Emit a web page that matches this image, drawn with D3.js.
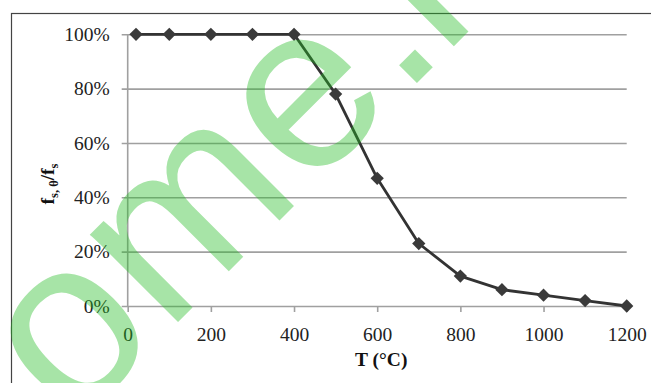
<!DOCTYPE html>
<html>
<head>
<meta charset="utf-8">
<script src="https://cdn.jsdelivr.net/npm/d3@7"></script>
<style>
  body { margin: 0; background: #fff; }
  svg { display: block; }
  .axis text { font-family: "Liberation Serif", "Times New Roman", serif; font-size: 19.5px; fill: #222; }
  .axis path { display: none; }
  .grid line { stroke: #a0a0a0; stroke-width: 1.6; }
  .title { font-family: "Liberation Serif", "Times New Roman", serif; font-weight: bold; fill: #111; }
</style>
</head>
<body>
<svg id="chart" width="651" height="383"></svg>
<script>
// temperature (°C) and reduction factor f_s,θ / f_s
var temps = [20, 100, 200, 300, 400, 500, 600, 700, 800, 900, 1000, 1100, 1200];
var ratio = [1.00, 1.00, 1.00, 1.00, 1.00, 0.78, 0.47, 0.23, 0.11, 0.06, 0.04, 0.02, 0.00];
var xTicks = [0, 200, 400, 600, 800, 1000, 1200];
var yTicks = [0, 0.2, 0.4, 0.6, 0.8, 1.0];

var svg = d3.select("#chart"),
    margin = {top: 34.3, right: 24.3, bottom: 77, left: 127.7},
    width = svg.attr("width") - margin.left - margin.right,
    height = svg.attr("height") - margin.top - margin.bottom;

var data = temps.map(function(t, i) { return {t: t, v: ratio[i]}; });

var x = d3.scaleLinear().domain([0, 1200]).range([0, width]),
    y = d3.scaleLinear().domain([0, 1]).range([height, 0]);

// outer chart border (runs off the right / bottom of the picture)
svg.append("rect")
    .attr("x", 11.5).attr("y", 13.5)
    .attr("width", 700).attr("height", 500)
    .attr("fill", "none")
    .attr("stroke", "#444")
    .attr("stroke-width", 1.2);

var g = svg.append("g")
    .attr("transform", "translate(" + margin.left + "," + margin.top + ")");

// horizontal gridlines + y labels
var yAxis = g.append("g")
    .attr("class", "axis grid")
    .call(d3.axisLeft(y).tickValues(yTicks).tickSize(-width - 6).tickPadding(18).tickFormat(d3.format(".0%")));
yAxis.selectAll(".tick line").attr("x1", width).attr("x2", -6);

// vertical axis line
g.append("line")
    .attr("x1", 0).attr("x2", 0)
    .attr("y1", 0).attr("y2", height)
    .attr("stroke", "#a0a0a0")
    .attr("stroke-width", 1.6);

g.append("g")
    .attr("class", "axis grid")
    .attr("transform", "translate(0," + height + ")")
    .call(d3.axisBottom(x).tickValues(xTicks).tickSize(6).tickPadding(15).tickFormat(d3.format("d")));

var line = d3.line()
    .x(function(d) { return x(d.t); })
    .y(function(d) { return y(d.v); });

g.append("path")
    .datum(data)
    .attr("fill", "none")
    .attr("stroke", "#333")
    .attr("stroke-width", 2.8)
    .attr("stroke-linejoin", "round")
    .attr("d", line);

g.selectAll(".pt")
    .data(data)
    .enter().append("path")
    .attr("class", "pt")
    .attr("d", d3.symbol(d3.symbolSquare, 88))
    .attr("fill", "#3a3a3a")
    .attr("transform", function(d) { return "translate(" + x(d.t) + "," + y(d.v) + ") rotate(45)"; });

// axis titles
svg.append("text")
    .attr("class", "title")
    .attr("x", margin.left + width / 2 + 4)
    .attr("y", 366)
    .attr("text-anchor", "middle")
    .style("font-size", "19.5px")
    .text("T (°C)");

var yl = svg.append("text")
    .attr("class", "title")
    .attr("transform", "translate(54,184) rotate(-90)")
    .attr("text-anchor", "middle")
    .style("font-size", "19.5px");
yl.append("tspan").text("f");
yl.append("tspan").attr("dy", 4).style("font-size", "12.5px").text("s, θ");
yl.append("tspan").attr("dy", -4).text("/f");
yl.append("tspan").attr("dy", 4).style("font-size", "12.5px").text("s");

// watermark
svg.append("text")
    .attr("transform", "translate(72,428) rotate(-45)")
    .attr("dx", "0 3 3 3 -7")
    .style("font-family", "Liberation Sans, Arial, sans-serif")
    .style("font-size", "235px")
    .attr("fill", "#22bb22")
    .attr("fill-opacity", 0.4)
    .text("ome.i");
</script>
</body>
</html>
